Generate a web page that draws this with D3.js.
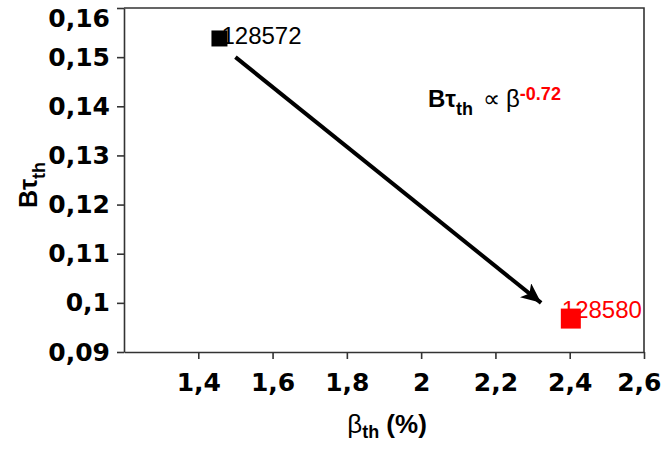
<!DOCTYPE html>
<html>
<head>
<meta charset="utf-8">
<script src="https://cdn.jsdelivr.net/npm/d3@7"></script>
<style>
  body { margin: 0; background: #fff; }
  svg { display: block; }
  text { font-family: "Liberation Sans", Arial, sans-serif; }
  .tick text { font-family: "DejaVu Sans", sans-serif; font-weight: bold; font-size: 25px; fill: #000; }
</style>
</head>
<body>
<svg width="661" height="450"></svg>
<script>
// shot numbers and beta / confinement values
let shots = ["128572", "128580"];
let betaTh = [1.457, 2.403];
let bTau = [0.1538, 0.0968];
let pointColors = ["#000000", "#ff0000"];
let pointSizes = [16, 20];

let xTicks = [1.4, 1.6, 1.8, 2.0, 2.2, 2.4, 2.6];
let yTicks = [0.09, 0.10, 0.11, 0.12, 0.13, 0.14, 0.15, 0.16];

// trend arrow from / to (beta, Btau)
let arrowFrom = [1.5, 0.150];
let arrowTo = [2.323, 0.100];
let exponent = "-0.72";

let svg = d3.select("svg");
let xScale = d3.scaleLinear().domain([1.2, 2.6]).range([124, 644]);
let yScale = d3.scaleLinear().domain([0.09, 0.16]).range([352, 8]);

let comma = d => String(+d.toFixed(2)).replace(".", ",");

// x axis
let gx = svg.append("g")
  .attr("transform", "translate(0,352)")
  .call(d3.axisBottom(xScale).tickValues(xTicks).tickFormat(comma).tickSize(7).tickSizeOuter(0).tickPadding(8));
gx.selectAll(".tick text").attr("dy", "0.95em");
// keep last label inside the window
gx.selectAll(".tick text").filter(d => d === 2.6).attr("text-anchor", "end").attr("x", 17);

// y axis
let gy = svg.append("g")
  .attr("transform", "translate(124,0)")
  .call(d3.axisLeft(yScale).tickValues(yTicks).tickFormat(comma).tickSize(7).tickSizeOuter(0).tickPadding(7));
gy.selectAll(".tick text").filter(d => d === 0.16).attr("dy", "0.72em");

svg.selectAll(".domain, .tick line").attr("stroke", "#333").attr("stroke-width", 1.6);

// frame top + right
svg.append("path")
  .attr("d", `M${xScale(1.2)},${yScale(0.16)}H${xScale(2.6)}V${yScale(0.09)}`)
  .attr("fill", "none").attr("stroke", "#333").attr("stroke-width", 1.6);

// arrow
svg.append("defs").append("marker")
  .attr("id", "head")
  .attr("markerUnits", "userSpaceOnUse")
  .attr("markerWidth", 22).attr("markerHeight", 18)
  .attr("refX", 20).attr("refY", 9)
  .attr("orient", "auto")
  .append("path")
  .attr("d", "M0,0L20,9L0,18L5,9Z")
  .attr("fill", "#000");

svg.append("line")
  .attr("x1", xScale(arrowFrom[0])).attr("y1", yScale(arrowFrom[1]))
  .attr("x2", xScale(arrowTo[0])).attr("y2", yScale(arrowTo[1]))
  .attr("stroke", "#000").attr("stroke-width", 4)
  .attr("marker-end", "url(#head)");

// data labels (drawn under the markers)
let labelDx = [2, -9];
let labelDy = [6, -1];
svg.selectAll("text.lbl")
  .data(shots)
  .join("text")
  .attr("class", "lbl")
  .attr("x", (d, i) => xScale(betaTh[i]) + labelDx[i])
  .attr("y", (d, i) => yScale(bTau[i]) + labelDy[i])
  .attr("font-size", 24)
  .attr("fill", (d, i) => pointColors[i])
  .text(d => d);

svg.selectAll("rect.pt")
  .data(shots)
  .join("rect")
  .attr("class", "pt")
  .attr("x", (d, i) => xScale(betaTh[i]) - pointSizes[i] / 2)
  .attr("y", (d, i) => yScale(bTau[i]) - pointSizes[i] / 2)
  .attr("width", (d, i) => pointSizes[i])
  .attr("height", (d, i) => pointSizes[i])
  .attr("fill", (d, i) => pointColors[i]);

// scaling law annotation
let ann = svg.append("text").attr("x", 428).attr("y", 107).attr("font-size", 24);
ann.append("tspan").attr("font-weight", "bold").text("Bτ");
ann.append("tspan").attr("font-weight", "bold").attr("font-size", 18).attr("dy", 8).text("th");
ann.append("tspan").attr("dy", -8).attr("dx", 10).text("∝");
ann.append("tspan").attr("dx", 6).text("β");
ann.append("tspan").attr("font-weight", "bold").attr("font-size", 18).attr("fill", "#ff0000").attr("dy", -7).text(exponent);

// y title
let yt = svg.append("text")
  .attr("transform", "translate(37,185) rotate(-90)")
  .attr("text-anchor", "middle")
  .attr("font-size", 25).attr("font-weight", "bold");
yt.append("tspan").text("Bτ");
yt.append("tspan").attr("font-size", 18).attr("dy", 8).text("th");

// x title
let xt = svg.append("text")
  .attr("x", 387).attr("y", 433)
  .attr("text-anchor", "middle")
  .attr("font-size", 26);
xt.append("tspan").text("β");
xt.append("tspan").attr("font-weight", "bold").attr("font-size", 18).attr("dy", 5).text("th");
xt.append("tspan").attr("font-weight", "bold").attr("dy", -5).text(" (%)");
</script>
</body>
</html>
